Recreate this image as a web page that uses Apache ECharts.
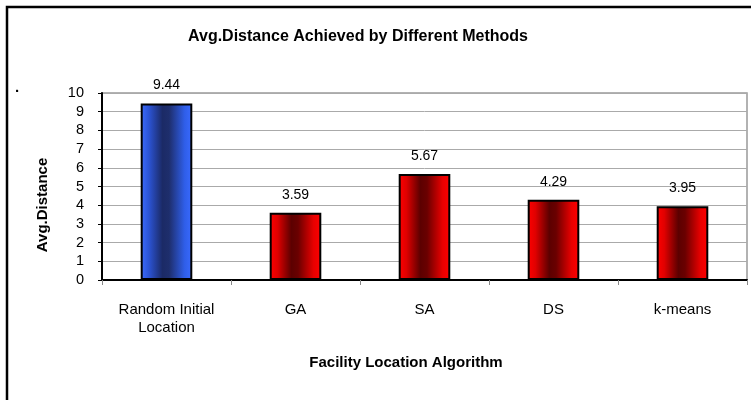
<!DOCTYPE html>
<html>
<head>
<meta charset="utf-8">
<script src="https://cdn.jsdelivr.net/npm/echarts@6/dist/echarts.min.js"></script>
<style>
  html, body { margin: 0; padding: 0; background: #fff; }
  #chart { width: 751px; height: 400px; }
</style>
</head>
<body>
<div id="chart"></div>
<script>
// data
var categories = ['Random Initial\nLocation', 'GA', 'SA', 'DS', 'k-means'];
var distances = [9.44, 3.59, 5.67, 4.29, 3.95];
var barKinds = ['blue', 'red', 'red', 'red', 'red'];

var FONT = '"Liberation Sans", Arial, sans-serif';

// cylinder-ish shading, bright edges dark middle
function shade(kind) {
    var s = kind === 'blue'
        ? ['#3d6dff', '#2c55d8', '#1b2a66', '#1e2e6c', '#2f5ee8', '#3a6aff']
        : ['#ff0000', '#e00000', '#5c0000', '#6a0000', '#e80000', '#ff0000'];
    return new echarts.graphic.LinearGradient(0, 0, 1, 0, [
        { offset: 0, color: s[0] },
        { offset: 0.15, color: s[1] },
        { offset: 0.42, color: s[2] },
        { offset: 0.55, color: s[3] },
        { offset: 0.85, color: s[4] },
        { offset: 1, color: s[5] }
    ]);
}

var chart = echarts.init(document.getElementById('chart'));

var option = {
    backgroundColor: '#fff',
    animation: false,
    title: {
        text: 'Avg.Distance Achieved by Different Methods',
        left: 353,
        textAlign: 'center',
        top: 24,
        textStyle: { fontFamily: FONT, fontSize: 16, fontWeight: 'bold', color: '#000' }
    },
    graphic: [
        {
            type: 'rect',
            shape: { x: 7, y: 7, width: 760, height: 410 },
            style: { fill: 'none', stroke: '#000', lineWidth: 2.5 },
            silent: true
        },
        {
            type: 'text',
            left: 15,
            top: 84,
            style: { text: '·', fontSize: 15, fontWeight: 'bold', fontFamily: FONT, fill: '#000' }
        },
        {
            // y axis title (sits a bit below the plot middle in the original)
            type: 'text',
            x: 43,
            y: 205,
            rotation: Math.PI / 2,
            style: {
                text: 'Avg.Distance',
                fontFamily: FONT, fontSize: 15, fontWeight: 'bold', fill: '#000',
                align: 'center', verticalAlign: 'middle'
            }
        },
        {
            type: 'text',
            x: 406,
            y: 363,
            style: {
                text: 'Facility Location Algorithm',
                fontFamily: FONT, fontSize: 15, fontWeight: 'bold', fill: '#000',
                align: 'center', verticalAlign: 'middle'
            }
        }
    ],
    grid: {
        left: 102,
        right: 4,
        top: 93,
        bottom: 120,
        show: true,
        borderColor: '#999',
        borderWidth: 1.5
    },
    xAxis: {
        type: 'category',
        data: categories,
        axisLine: { lineStyle: { color: '#000', width: 2 } },
        axisTick: { show: true, length: 5, lineStyle: { color: '#888' } },
        axisLabel: { fontFamily: FONT, fontSize: 15, color: '#000', margin: 21, lineHeight: 18 }
    },
    yAxis: {
        type: 'value',
        min: 0,
        max: 10,
        interval: 1,
        axisLine: { show: true, lineStyle: { color: '#000', width: 2 } },
        axisTick: { show: true, length: 4, lineStyle: { color: '#000' } },
        axisLabel: { fontFamily: FONT, fontSize: 14.5, color: '#000', margin: 18 },
        splitLine: { lineStyle: { color: '#aaa', width: 1 } }
    },
    series: [{
        type: 'bar',
        barWidth: '40%',
        data: distances.map(function (v, i) {
            return {
                value: v,
                itemStyle: { color: shade(barKinds[i]), borderColor: '#000', borderWidth: 2 }
            };
        }),
        label: {
            show: true,
            position: 'top',
            distance: 11,
            fontFamily: FONT,
            fontSize: 14,
            color: '#000',
            formatter: function (p) { return p.value.toFixed(2); }
        }
    }]
};

chart.setOption(option);
</script>
</body>
</html>
